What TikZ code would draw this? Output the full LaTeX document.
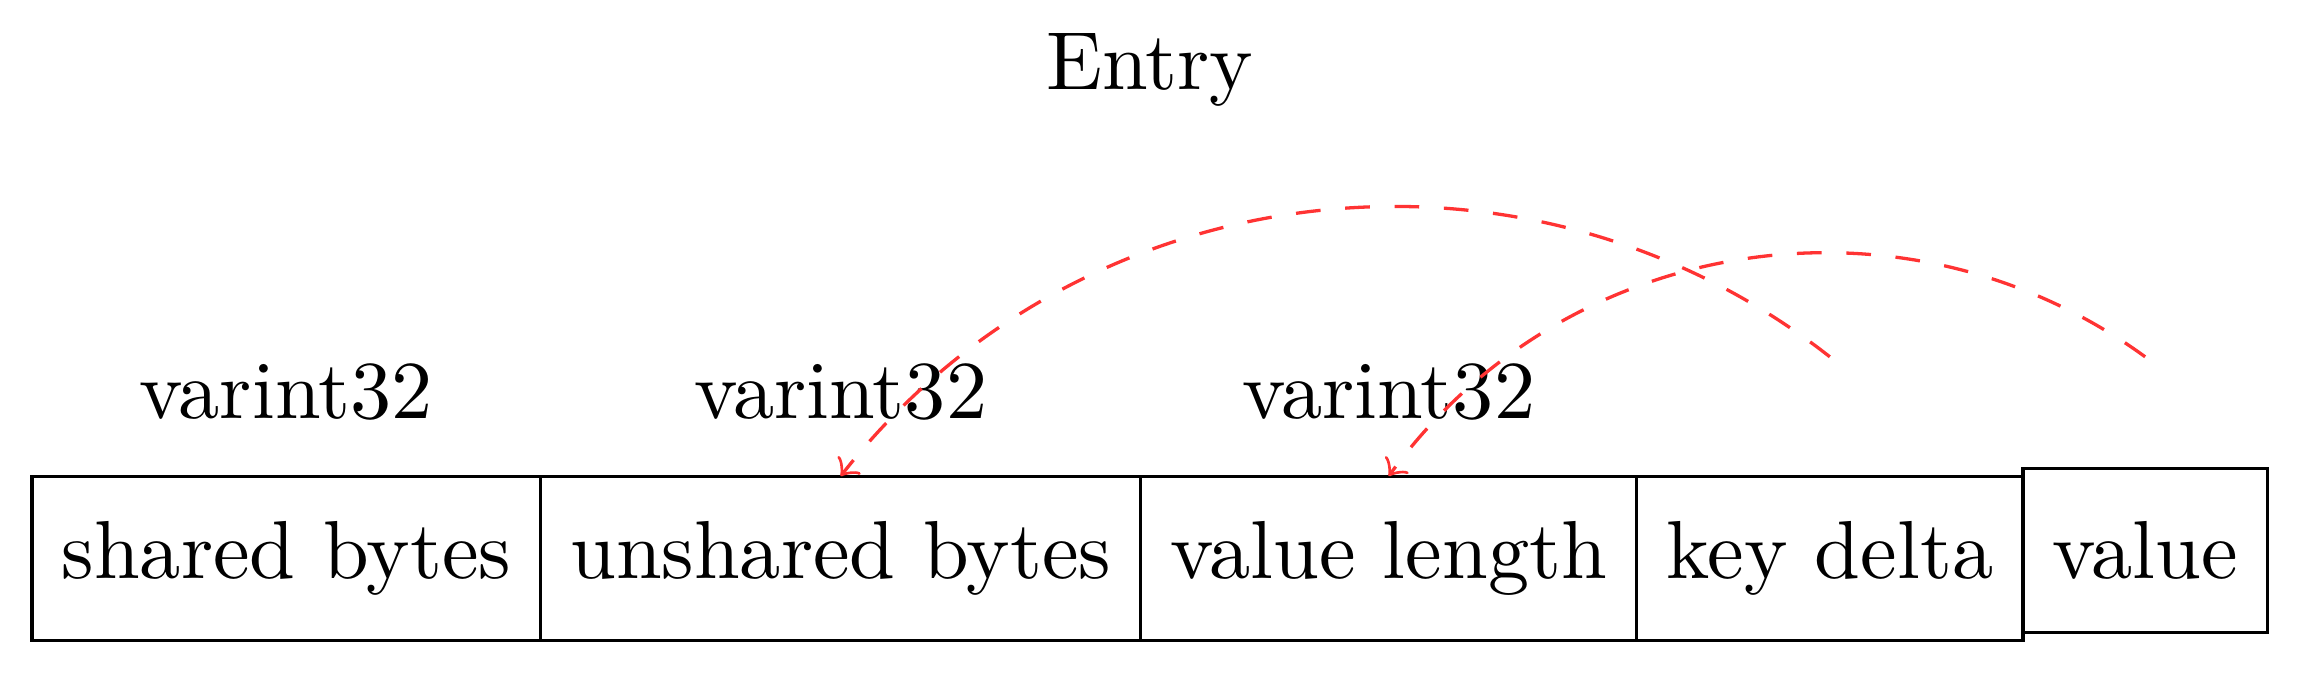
\documentclass[tikz,border=0pt]{standalone}
\usetikzlibrary{positioning,calc}
\tikzset{
  field/.style={draw,minimum height=20pt,inner xsep=3.6pt,outer sep=0pt},
  width/.style={inner sep=0.3333em},
  ptr/.style={red!80,dashed,->,bend right=45},
}
\begin{document}
\begin{tikzpicture}
   % the fields of one entry
   \node [field] (shared) {shared bytes};
   \node [field,right=0pt of shared] (unshared) {unshared bytes};
   \node [field,right=0pt of unshared] (vlen) {value length};
   \node [field,right=0pt of vlen] (keydelta) {key delta};
   \node [field,base right=0pt of keydelta] (value) {value};
   \useasboundingbox ([xshift=-3.9pt,yshift=-4.25pt]shared.south west) rectangle ++(279.3pt,82.1pt);
   % encodings
   \node [width,above=3.2pt of shared] (shared-t) {varint32};
   \node [width,above=3.2pt of unshared] (unshared-t) {varint32};
   \node [width,above=3.2pt of vlen] (vlen-t) {varint32};
   \node (entry) at ($(shared.north west)!0.5!(value.north east)+(0,48.9pt)$) {Entry};
   % lengths point back to their data
   \coordinate (kd-src) at ([yshift=14.5pt]keydelta.north);
   \coordinate (v-src) at (value.north |- kd-src);
   \draw [ptr] (kd-src) to (unshared.north);
   \draw [ptr] (v-src) to (vlen.north);
\end{tikzpicture}
\end{document}
